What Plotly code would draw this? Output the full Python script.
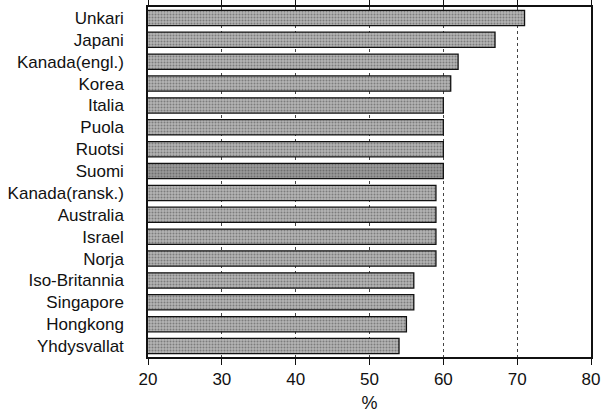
import plotly.graph_objects as go

countries = ["Unkari", "Japani", "Kanada(engl.)", "Korea", "Italia", "Puola", "Ruotsi", "Suomi",
             "Kanada(ransk.)", "Australia", "Israel", "Norja", "Iso-Britannia", "Singapore",
             "Hongkong", "Yhdysvallat"]
values = [71, 67, 62, 61, 60, 60, 60, 60, 59, 59, 59, 59, 56, 56, 55, 54]
x_ticks = [20, 30, 40, 50, 60, 70, 80]

colors = ["#9a9a9a" if c == "Suomi" else "#b4b4b4" for c in countries]

fig = go.Figure(go.Bar(
    y=countries, x=values, orientation="h",
    base=0,
    marker=dict(color=colors, line=dict(color="#111111", width=1.3),
                pattern=dict(shape=".", fgcolor="#555555", size=3, solidity=0.35)),
))

fig.update_layout(
    width=602, height=413,
    margin=dict(l=148, r=11, t=7, b=56),
    paper_bgcolor="white", plot_bgcolor="white",
    font=dict(family="Liberation Sans, Arial, sans-serif", color="#111111", size=17),
    bargap=0.3,
    showlegend=False,
    xaxis=dict(range=[20, 80], tickvals=x_ticks, ticks="outside", ticklen=6,
               tickcolor="#111111", showline=True, linecolor="#111111", linewidth=1.5,
               mirror="all", showgrid=True, gridcolor="#444444", griddash="dot", gridwidth=1,
               zeroline=False, tickfont=dict(size=17), automargin=False,
               title=dict(text="%", font=dict(size=18), standoff=10)),
    yaxis=dict(categoryorder="array", categoryarray=countries, autorange="reversed",
               showline=True, linecolor="#111111", linewidth=1.5, mirror="all",
               ticks="", tickfont=dict(size=17), ticklabelstandoff=19, showgrid=False,
               automargin=False),
)

fig.write_html("out.html", config={"displayModeBar": False},
               post_script="document.body.style.margin='0';document.body.style.overflow='hidden';")
